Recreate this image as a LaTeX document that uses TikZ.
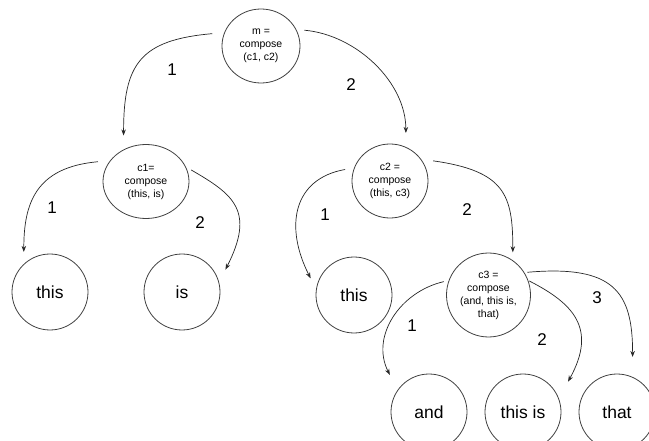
\documentclass[tikz,border=0pt]{standalone}
\usepackage{fontspec}
\setmainfont{Liberation Sans}
\usetikzlibrary{arrows.meta,shapes.geometric}
\begin{document}
\begin{tikzpicture}[x=1pt,y=1pt,
  bubble/.style={ellipse,draw=black!75,line width=0.8pt,inner sep=0pt,align=center},
  callnode/.style={bubble,font=\fontsize{10.5}{13}\selectfont},
  leaf/.style={bubble,minimum width=76pt,minimum height=76pt,font=\fontsize{17.5}{20}\selectfont},
  link/.style={draw=black!85,line width=0.7pt,-{Stealth[length=6pt,width=4.5pt]}},
  num/.style={font=\fontsize{17}{20}\selectfont}]
\useasboundingbox (0,0) rectangle (649,-441);
\clip (0,0) rectangle (649,-441);

% composite nodes
\node[callnode,minimum width=78pt,minimum height=74pt] (m)  at (261,-46)    {m =\\compose\\(c1, c2)};
\node[callnode,minimum width=86pt,minimum height=74pt] (c1) at (146,-181.5) {c1=\\compose\\(this, is)};
\node[callnode,minimum width=76pt,minimum height=74pt] (c2) at (390,-181)   {c2 =\\compose\\(this, c3)};
\node[callnode,minimum width=84pt,minimum height=84pt] (c3) at (488.5,-295) {c3 =\\compose\\(and, this is,\\that)};

% leaves
\node[leaf] (thisL)  at (50,-292)  {this};
\node[leaf] (is)     at (182,-292) {is};
\node[leaf] (thisR)  at (354,-295) {this};
\node[leaf] (and)    at (429,-412) {and};
\node[leaf] (thisis) at (523,-412) {this is};
\node[leaf] (that)   at (617,-412) {that};

% connectors
\draw[link,shorten <=12pt,shorten >=14pt] (m.160)  .. controls +(185:85) and +(90:85)  .. (c1.125);
\draw[link,shorten <=8pt, shorten >=14pt] (m.25)   .. controls +(-5:60)  and +(90:65)  .. (c2.65);
\draw[link,shorten <=12pt,shorten >=12pt] (c1.150) .. controls +(185:75) and +(90:60)  .. (thisL.133);
\draw[link,shorten <=6pt, shorten >=14pt] (c1.20)  .. controls +(-30:55) and +(63:80)  .. (is.15);
\draw[link,shorten <=9pt, shorten >=12pt] (c2.160) .. controls +(190:62) and +(117:70) .. (thisR.171);
\draw[link,shorten <=12pt,shorten >=8pt]  (c2.35)  .. controls +(-8:85)  and +(90:65)  .. (c3.55);
\draw[link,shorten <=5pt, shorten >=17pt] (c3.160) .. controls +(193:50) and +(117:60) .. (and.145);
\draw[link,shorten <=1pt, shorten >=19pt] (c3.20)  .. controls +(-27:50) and +(61:80)  .. (thisis.21);
\draw[link,shorten <=3pt, shorten >=20pt] (c3.32)  .. controls +(5:90)   and +(90:85)  .. (that.66);

% argument numbers
\node[num] (n1) at (172,-70)  {1};
\node[num] (n2) at (351,-85)  {2};
\node[num] (n3) at (52,-208)  {1};
\node[num] (n4) at (200,-223) {2};
\node[num] (n5) at (325,-215) {1};
\node[num] (n6) at (467,-210) {2};
\node[num] (n7) at (412,-326) {1};
\node[num] (n8) at (542,-340) {2};
\node[num] (n9) at (597,-298) {3};
\end{tikzpicture}
\end{document}
